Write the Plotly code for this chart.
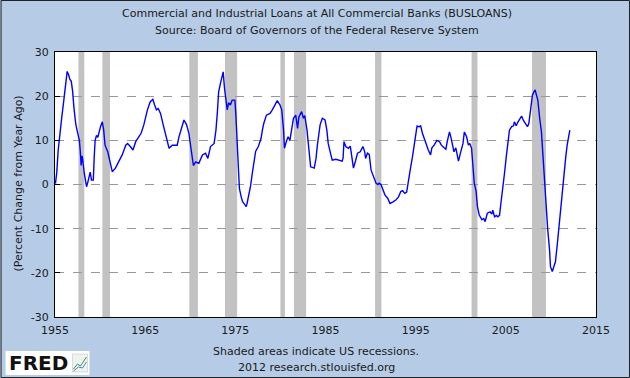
import plotly.graph_objects as go

years = [1955.05, 1955.2, 1955.35, 1955.55, 1955.75, 1955.95, 1956.1, 1956.3, 1956.35, 1956.5,
         1956.65, 1956.8, 1956.95, 1957.1, 1957.3, 1957.5, 1957.7, 1957.8, 1957.9, 1958.0,
         1958.05, 1958.25, 1958.35, 1958.5, 1958.65, 1958.8, 1958.9, 1959.05, 1959.25, 1959.35,
         1959.45, 1959.6, 1959.75, 1960.05, 1960.25, 1960.4, 1960.55, 1960.85, 1961.05, 1961.35,
         1961.7, 1962.05, 1962.45, 1962.85, 1963.05, 1963.35, 1963.65, 1963.95, 1964.15, 1964.55,
         1964.85, 1965.25, 1965.55, 1965.85, 1966.05, 1966.25, 1966.45, 1966.7, 1967.05, 1967.35,
         1967.65, 1968.0, 1968.55, 1968.75, 1969.15, 1969.3, 1969.6, 1969.85, 1970.05, 1970.25,
         1970.35, 1970.6, 1970.95, 1971.35, 1971.7, 1971.95, 1972.25, 1972.65, 1972.85, 1973.0,
         1973.15, 1973.35, 1973.65, 1973.8, 1974.0, 1974.1, 1974.25, 1974.45, 1974.65, 1974.95,
         1975.05, 1975.15, 1975.3, 1975.45, 1975.65, 1975.8, 1976.0, 1976.2, 1976.3, 1976.5,
         1976.7, 1976.85, 1977.05, 1977.25, 1977.55, 1977.85, 1978.0, 1978.15, 1978.45, 1978.85,
         1979.1, 1979.45, 1979.65, 1979.95, 1980.15, 1980.35, 1980.45, 1980.65, 1980.85, 1981.05,
         1981.25, 1981.45, 1981.7, 1981.9, 1982.05, 1982.35, 1982.55, 1982.7, 1982.95, 1983.15,
         1983.35, 1983.75, 1983.95, 1984.1, 1984.4, 1984.65, 1984.95, 1985.15, 1985.3, 1985.55,
         1985.75, 1986.15, 1986.55, 1986.85, 1986.95, 1987.05, 1987.25, 1987.55, 1987.75, 1988.0,
         1988.1, 1988.35, 1988.55, 1988.85, 1989.15, 1989.35, 1989.45, 1989.65, 1989.85, 1990.05,
         1990.25, 1990.4, 1990.6, 1990.8, 1990.95, 1991.15, 1991.35, 1991.6, 1991.9, 1992.15,
         1992.45, 1992.8, 1993.1, 1993.35, 1993.55, 1993.8, 1994.0, 1994.15, 1994.3, 1994.45,
         1994.65, 1994.85, 1995.05, 1995.15, 1995.4, 1995.55, 1995.75, 1996.05, 1996.25, 1996.4,
         1996.65, 1996.8, 1997.05, 1997.35, 1997.65, 1997.85, 1998.15, 1998.35, 1998.5, 1998.75,
         1998.9, 1999.1, 1999.25, 1999.45, 1999.65, 1999.75, 1999.95, 2000.25, 2000.4, 2000.65,
         2000.85, 2001.0, 2001.2, 2001.35, 2001.5, 2001.7, 2001.85, 2002.05, 2002.35, 2002.55,
         2002.7, 2002.95, 2003.25, 2003.45, 2003.55, 2003.75, 2003.95, 2004.1, 2004.3, 2004.45,
         2004.65, 2004.85, 2005.05, 2005.25, 2005.4, 2005.65, 2005.85, 2005.95, 2006.15, 2006.35,
         2006.55, 2006.75, 2006.95, 2007.15, 2007.4, 2007.55, 2007.75, 2007.95, 2008.1, 2008.25,
         2008.35, 2008.55, 2008.75, 2008.95, 2009.1, 2009.3, 2009.45, 2009.65, 2009.85, 2009.95,
         2010.15, 2010.25, 2010.5, 2010.7, 2010.9, 2011.05, 2011.25, 2011.45, 2011.65, 2011.8,
         2012.0, 2012.1]

pct_change = [0.2, 2.8, 7.7, 12.2, 15.2, 18.6, 21.2, 25.3, 25.6, 24.9,
              23.8, 23.4, 21.2, 17.4, 13.7, 11.8, 10.0, 7.7, 4.3, 6.5,
              6.0, 2.5, 1.0, -0.5, 0.6, 1.7, 2.8, 1.0, 1.0, 6.2,
              10.0, 11.1, 10.7, 13.1, 14.2, 12.3, 8.9, 7.4, 5.5, 2.9,
              3.7, 5.2, 6.7, 8.9, 9.3, 8.6, 7.8, 9.7, 10.4, 11.6,
              13.5, 16.9, 18.7, 19.3, 18.0, 16.9, 17.2, 16.1, 13.1, 10.8,
              8.2, 8.9, 8.9, 10.8, 13.5, 14.6, 13.5, 11.6, 8.6, 5.9,
              4.3, 5.1, 4.8, 6.7, 7.1, 5.9, 8.6, 9.3, 12.3, 16.1,
              21.0, 22.9, 25.5, 21.8, 19.1, 16.9, 18.5, 18.0, 19.1, 19.1,
              16.1, 10.8, 4.0, -0.9, -2.8, -3.9, -4.4, -5.0, -4.3, -2.4,
              -0.2, 2.1, 4.7, 7.5, 8.6, 10.4, 12.3, 13.8, 15.7, 16.1,
              16.9, 18.4, 19.0, 18.0, 16.9, 12.3, 8.2, 9.7, 10.8, 10.0,
              12.3, 15.0, 15.7, 12.7, 15.3, 16.5, 15.0, 15.6, 12.3, 7.8,
              4.0, 3.7, 5.9, 8.9, 13.5, 15.0, 14.6, 12.3, 9.3, 7.1,
              5.5, 5.7, 5.5, 5.3, 6.0, 9.7, 8.6, 8.2, 8.7, 5.5,
              3.7, 5.5, 7.1, 7.4, 8.6, 7.4, 5.9, 7.1, 6.8, 3.3,
              2.1, 1.4, 0.3, 0.0, 0.3, 0.0, -1.2, -2.4, -3.1, -4.3,
              -4.0, -3.5, -2.8, -1.6, -1.4, -2.0, -1.7, -0.1, 1.8, 4.0,
              6.3, 8.9, 11.2, 13.2, 13.1, 13.3, 11.6, 9.7, 8.3, 7.8,
              6.7, 8.3, 8.9, 10.0, 9.7, 8.9, 8.3, 8.0, 9.7, 11.9,
              10.8, 8.9, 7.4, 8.3, 6.7, 5.3, 7.0, 9.3, 11.9, 10.8,
              8.9, 9.3, 8.2, 4.8, 0.3, -1.5, -5.0, -6.9, -8.0, -7.7,
              -8.4, -6.5, -6.2, -6.7, -5.8, -7.3, -7.0, -7.3, -7.0, -4.3,
              -1.2, 2.5, 6.3, 9.7, 12.3, 13.1, 13.3, 14.2, 13.3, 14.2,
              15.0, 15.5, 14.5, 13.8, 13.1, 13.8, 17.6, 20.2, 20.9, 21.4,
              20.6, 19.1, 15.0, 11.9, 7.1, 0.3, -4.3, -10.3, -14.8, -18.6,
              -19.7, -19.0, -17.5, -13.7, -9.5, -5.0, -1.6, 2.5, 6.3, 8.9,
              10.8, 12.3]

recession_start = [1957.6, 1960.25, 1969.9, 1973.85, 1980.0, 1981.5, 1990.5, 2001.2, 2007.9]
recession_end = [1958.25, 1961.1, 1970.85, 1975.2, 1980.5, 1982.85, 1991.2, 2001.85, 2009.45]

x_ticks = [1955, 1965, 1975, 1985, 1995, 2005, 2015]
x_tick_labels = ["1955", "1965", "1975", "1985", "1995", "2005", "2015"]
y_ticks = [-30, -20, -10, 0, 10, 20, 30]
y_tick_labels = ["-30", "-20", "-10", "0", "10", "20", "30"]

title_lines = ["Commercial and Industrial Loans at All Commercial Banks (BUSLOANS)",
               "Source: Board of Governors of the Federal Reserve System"]
footer_lines = ["Shaded areas indicate US recessions.", "2012 research.stlouisfed.org"]
y_title = "(Percent Change from Year Ago)"

FONT = "DejaVu Sans"
TXT = "#1a1a1a"
BG = "#b6cce6"

# plot-area pixel geometry
L, R, T, B = 54.5, 34, 52, 61
W, H = 630, 378
PW, PH = W - L - R, H - T - B


def px(xp):
    return (xp - L) / PW


def py(yp):
    return (H - B - yp) / PH


fig = go.Figure()
fig.add_trace(go.Scatter(x=years, y=pct_change, mode="lines",
                         line=dict(color="#0000ff", width=1.4), hoverinfo="skip"))

shapes = []
for s, e in zip(recession_start, recession_end):
    shapes.append(dict(type="rect", xref="x", yref="paper", x0=s, x1=e, y0=0, y1=1,
                       fillcolor="#c2c2c2", line=dict(width=0), layer="between"))
# outer frame
shapes.append(dict(type="rect", xref="paper", yref="paper", x0=px(0.5), x1=px(W - 0.5),
                   y0=py(H - 0.5), y1=py(0.5), line=dict(color="#222", width=1),
                   fillcolor="rgba(0,0,0,0)", layer="above"))
# FRED logo box
shapes.append(dict(type="rect", xref="paper", yref="paper", x0=px(5), x1=px(89),
                   y0=py(375), y1=py(351), fillcolor="white", line=dict(width=0), layer="above"))
shapes.append(dict(type="rect", xref="paper", yref="paper", x0=px(72), x1=px(87),
                   y0=py(372), y1=py(354), fillcolor="#eef2f0", line=dict(color="#bbb", width=0.5),
                   layer="above"))
shapes.append(dict(type="path", xref="paper", yref="paper",
                   path=f"M {px(73)},{py(369)} L {px(77)},{py(364)} L {px(80)},{py(366)} L {px(86)},{py(357)}",
                   line=dict(color="#3a9a3a", width=1), layer="above"))
shapes.append(dict(type="path", xref="paper", yref="paper",
                   path=f"M {px(73)},{py(371)} L {px(78)},{py(367)} L {px(82)},{py(368)} L {px(86)},{py(362)}",
                   line=dict(color="#5a7adc", width=1), layer="above"))


def ann(text, xp, yp, size=11, angle=0, color=TXT):
    return dict(text=text, x=px(xp), y=py(yp), xref="paper", yref="paper",
                xanchor="center", yanchor="middle", textangle=angle, showarrow=False,
                font=dict(family=FONT, size=size, color=color))


annotations = [
    ann(title_lines[0], 317, 13),
    ann(title_lines[1], 317, 30),
    ann(footer_lines[0], 316, 351),
    ann(footer_lines[1], 316, 367),
    ann(y_title, 17, 184, angle=-90),
    ann("<b>FRED</b>", 38, 363, size=20, color="#111"),
]

fig.update_layout(
    width=W, height=H,
    margin=dict(l=L, r=R, t=T, b=B, pad=0),
    paper_bgcolor=BG, plot_bgcolor="white",
    showlegend=False,
    shapes=shapes, annotations=annotations,
    font=dict(family=FONT, size=11, color=TXT),
    xaxis=dict(range=[1955, 2015], tickvals=x_ticks, ticktext=x_tick_labels,
               showgrid=False, zeroline=False, showline=True, linecolor="#000", linewidth=1,
               mirror=True, ticks="", ticklabelstandoff=3,
               tickfont=dict(family=FONT, size=11, color=TXT)),
    yaxis=dict(range=[-30, 30], tickvals=y_ticks, ticktext=y_tick_labels, showgrid=True,
               gridcolor="#999999", griddash="dash", gridwidth=1, zeroline=False,
               showline=True, linecolor="#000", linewidth=1, mirror=True, ticks="inside",
               ticklen=5, tickcolor="#000", ticklabelstandoff=3,
               tickfont=dict(family=FONT, size=11, color=TXT)),
)

fig.write_html("out.html", config={"displayModeBar": False},
               post_script="document.body.style.margin='0';")
